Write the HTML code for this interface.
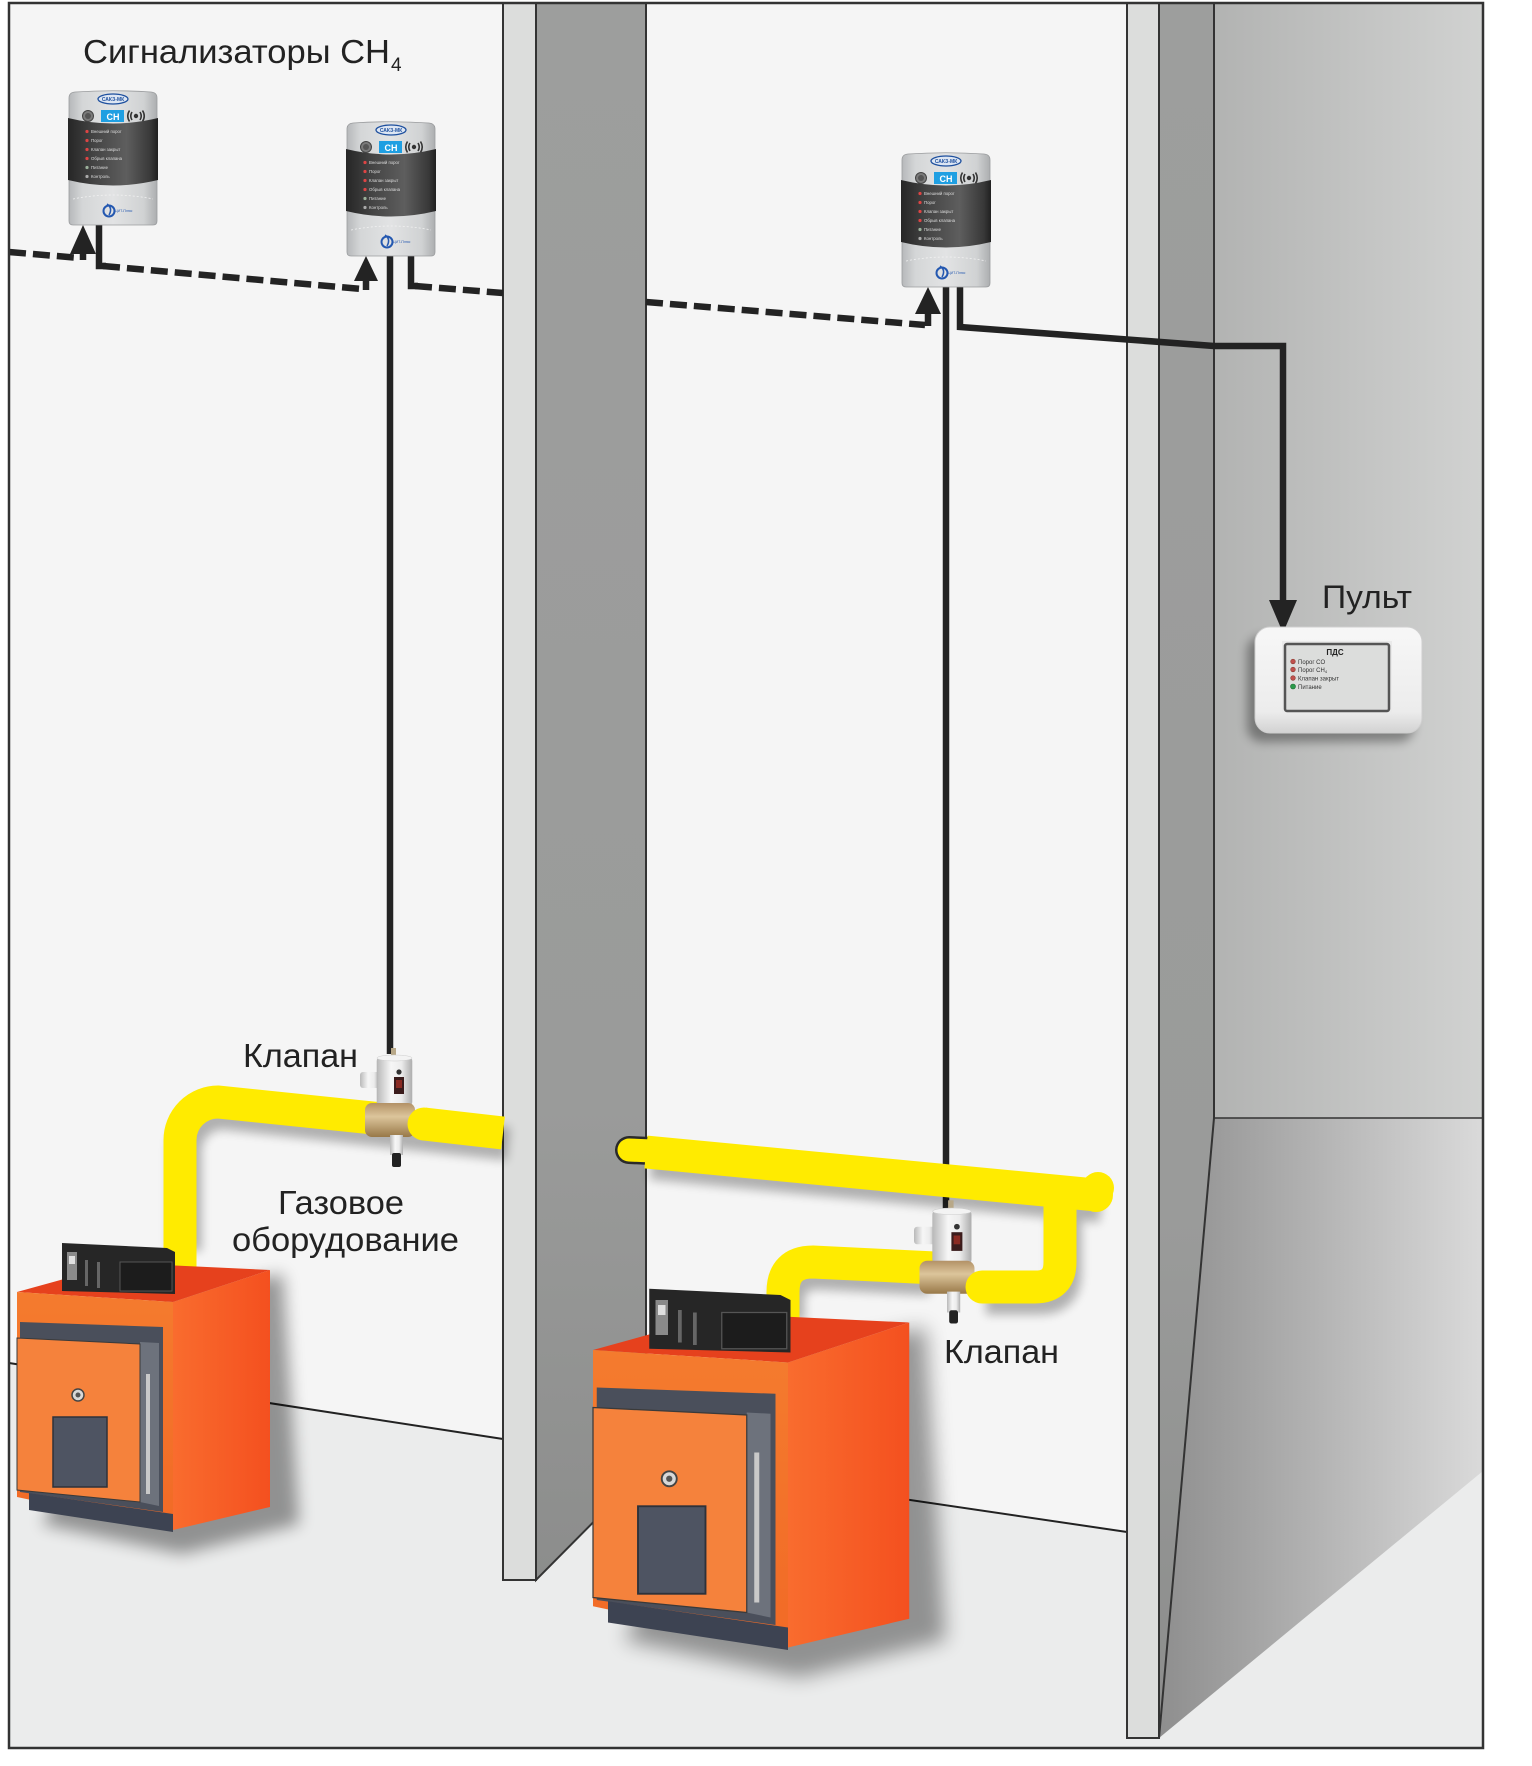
<!DOCTYPE html>
<html><head><meta charset="utf-8"><style>
html,body{margin:0;padding:0;background:#fff;}
svg{display:block;font-family:"Liberation Sans","DejaVu Sans",sans-serif;}
</style></head><body>
<svg width="1532" height="1766" viewBox="0 0 1532 1766" xmlns="http://www.w3.org/2000/svg">
<defs>
<linearGradient id="sBody" x1="0" x2="1" y1="0" y2="0"><stop offset="0" stop-color="#b6b8ba"/><stop offset=".15" stop-color="#d4d6d7"/><stop offset=".5" stop-color="#e2e3e4"/><stop offset=".85" stop-color="#d0d2d3"/><stop offset="1" stop-color="#acaeb0"/></linearGradient>
<linearGradient id="sBand" x1="0" x2="1" y1="0" y2="0"><stop offset="0" stop-color="#262626"/><stop offset=".3" stop-color="#454545"/><stop offset=".65" stop-color="#5e5e5e"/><stop offset=".92" stop-color="#383838"/><stop offset="1" stop-color="#202020"/></linearGradient>
<linearGradient id="vWhite" x1="0" x2="1" y1="0" y2="0"><stop offset="0" stop-color="#b9b9b9"/><stop offset=".4" stop-color="#f6f6f6"/><stop offset=".7" stop-color="#ececec"/><stop offset="1" stop-color="#aeaeae"/></linearGradient>
<linearGradient id="brass" x1="0" x2="0" y1="0" y2="1"><stop offset="0" stop-color="#b39166"/><stop offset=".4" stop-color="#dcc59b"/><stop offset="1" stop-color="#987848"/></linearGradient>
<linearGradient id="bRight" x1="0" x2="1" y1="0" y2="0"><stop offset="0" stop-color="#f96c2e"/><stop offset="1" stop-color="#f4501f"/></linearGradient>
<linearGradient id="bFront" x1="0" x2="0" y1="0" y2="1"><stop offset="0" stop-color="#f47b2e"/><stop offset="1" stop-color="#f26a26"/></linearGradient>
<linearGradient id="wallR1" gradientUnits="userSpaceOnUse" x1="1214" x2="1483" y1="0" y2="0"><stop offset="0" stop-color="#b2b3b2"/><stop offset="1" stop-color="#d1d2d1"/></linearGradient>
<linearGradient id="wallR2" gradientUnits="userSpaceOnUse" x1="1159" x2="1483" y1="0" y2="0"><stop offset="0" stop-color="#8e8e8e"/><stop offset="1" stop-color="#dadada"/></linearGradient>
<linearGradient id="darkS" x1="0" x2="0" y1="0" y2="1"><stop offset="0" stop-color="#9d9e9d"/><stop offset=".7" stop-color="#9a9b9a"/><stop offset="1" stop-color="#8c8d8c"/></linearGradient>
<linearGradient id="pultG" x1="0" x2="0" y1="0" y2="1"><stop offset="0" stop-color="#f7f7f7"/><stop offset=".8" stop-color="#ececec"/><stop offset="1" stop-color="#d2d2d2"/></linearGradient>
<filter id="bl5" x="-30%" y="-30%" width="160%" height="160%"><feGaussianBlur stdDeviation="5"/></filter>
<filter id="bl8" x="-30%" y="-30%" width="160%" height="160%"><feGaussianBlur stdDeviation="8"/></filter>
</defs>

<rect x="9" y="3" width="1474" height="1745" fill="#ebecec"/>
<polygon points="9,3 503,3 503,1439 9,1363" fill="#f5f5f5"/>
<polygon points="646,3 1127,3 1127,1532 646,1461" fill="#f5f5f5"/>
<line x1="9" y1="1363" x2="503" y2="1439" stroke="#222" stroke-width="2"/>
<line x1="646" y1="1461" x2="1127" y2="1532" stroke="#222" stroke-width="2"/>

<rect x="503" y="3" width="33" height="1577" fill="#dcdddc" stroke="#333" stroke-width="2"/>
<polygon points="536,3 646,3 646,1469 536,1580" fill="url(#darkS)" stroke="#333" stroke-width="2"/>
<rect x="1214" y="3" width="269" height="1115" fill="url(#wallR1)"/>
<polygon points="1214,1118 1483,1118 1483,1471 1159,1738" fill="url(#wallR2)"/>
<polygon points="1159,3 1214,3 1214,1118 1159,1738" fill="url(#darkS)" stroke="#333" stroke-width="2"/>
<line x1="1214" y1="1118" x2="1483" y2="1118" stroke="#333" stroke-width="1.5"/>
<rect x="1127" y="3" width="32" height="1735" fill="#dcdddc" stroke="#333" stroke-width="2"/>

<g stroke="#232323" stroke-width="6.5" fill="none" stroke-dasharray="17 7">
<path d="M9,252 L80,258"/>
<path d="M103,266 L362,289"/>
<path d="M415,286 L503,293"/>
<path d="M646,302 L925,325"/>
</g>
<g stroke="#232323" stroke-width="6.5" fill="none" stroke-linejoin="miter">
<path d="M99,224 L99,266 L106,266"/>
<path d="M411,256 L411,286 L418,286"/>
<path d="M390,256 L390,1054"/>
<path d="M946,285 L946,1210"/>
<path d="M960,285 L960,327 L1214,346 L1283,346 L1283,604"/>
<path d="M83,248 L83,260"/>
<path d="M366,276 L366,290"/>
<path d="M928,310 L928,326"/>
</g>
<g fill="#232323">
<polygon points="83,225 96,254 70,254"/>
<polygon points="366,256 378,281 354,281"/>
<polygon points="928,287 941,314 915,314"/>
<polygon points="1283,633 1269,600 1297,600"/>
</g>

<g transform="translate(5,11)" opacity=".28" filter="url(#bl5)" stroke="#000" stroke-width="33" fill="none">
<path d="M180,1240 L180,1140 A38,38 0 0 1 218,1102 L503,1133"/>
<path d="M646,1152 L1096,1195"/>
<path d="M1060,1195 L1060,1262 Q1060,1287 1035,1287 L981,1287"/>
<path d="M925,1268 L813,1262 Q783,1262 783,1292 L783,1310"/>
</g>

<path d="M180,1274 L180,1140 A38,38 0 0 1 218,1102 L392,1120" stroke="#ffeb00" stroke-width="33" fill="none"/>
<path d="M629,1150 L652,1151" stroke="#2a2a2a" stroke-width="28" stroke-linecap="round" fill="none"/>
<path d="M629,1150 L652,1151" stroke="#ffeb00" stroke-width="23" stroke-linecap="round" fill="none"/>
<path d="M646,1152 L1096,1195" stroke="#ffeb00" stroke-width="33" stroke-linecap="butt" fill="none"/>
<circle cx="1096" cy="1195" r="17" fill="#ffeb00"/>
<circle cx="1098" cy="1188" r="16" fill="#ffeb00"/>
<path d="M935,1268 L813,1262 Q783,1262 783,1292 L783,1322" stroke="#ffeb00" stroke-width="33" fill="none"/>

<g transform="translate(390,1105)">
<rect x="1" y="-57" width="5" height="11" fill="#b8a888"/>
<rect x="-30" y="-33" width="20" height="16" rx="3" fill="url(#vWhite)"/>
<rect x="-13" y="-48" width="35" height="49" rx="4" fill="url(#vWhite)" stroke="#b5b5b5" stroke-width=".6"/>
<ellipse cx="4.5" cy="-47" rx="17.5" ry="3" fill="#f3f3f3" stroke="#ccc" stroke-width=".5"/>
<circle cx="9" cy="-33" r="2.6" fill="#333"/>
<rect x="4" y="-28" width="10" height="17" fill="#3b1c1c"/>
<rect x="6" y="-25" width="6" height="8" fill="#8a2a22"/>
<rect x="-25" y="-2" width="50" height="34" rx="7" fill="url(#brass)"/>
<rect x="0" y="30" width="13" height="20" fill="url(#vWhite)"/>
<rect x="2" y="48" width="9" height="14" rx="2" fill="#222"/>
</g>
<path d="M424,1124 L503,1133" stroke="#ffeb00" stroke-width="33" fill="none"/>
<circle cx="424" cy="1124" r="16.5" fill="#ffeb00"/>

<g transform="translate(947,1263) scale(1.1)">
<rect x="1" y="-57" width="5" height="11" fill="#b8a888"/>
<rect x="-30" y="-33" width="20" height="16" rx="3" fill="url(#vWhite)"/>
<rect x="-13" y="-48" width="35" height="49" rx="4" fill="url(#vWhite)" stroke="#b5b5b5" stroke-width=".6"/>
<ellipse cx="4.5" cy="-47" rx="17.5" ry="3" fill="#f3f3f3" stroke="#ccc" stroke-width=".5"/>
<circle cx="9" cy="-33" r="2.6" fill="#333"/>
<rect x="4" y="-28" width="10" height="17" fill="#3b1c1c"/>
<rect x="6" y="-25" width="6" height="8" fill="#8a2a22"/>
<rect x="-25" y="-2" width="50" height="30" rx="7" fill="url(#brass)"/>
<rect x="0" y="26" width="12" height="19" fill="url(#vWhite)"/>
<rect x="2" y="43" width="8" height="12" rx="2" fill="#222"/>
</g>
<path d="M1060,1197 L1060,1262 Q1060,1287 1035,1287 L982,1287" stroke="#ffeb00" stroke-width="33" stroke-linecap="round" fill="none"/>

<g transform="translate(17,1292)">
<polygon points="150,5 266,-18 282,232 165,262 25,232" fill="#000" opacity=".38" filter="url(#bl8)"/>
<polygon points="0,0 156,10 253,-22 105,-29" fill="#e6411d"/>
<polygon points="0,0 156,10 156,238 0,205" fill="url(#bFront)"/>
<polygon points="156,10 253,-22 253,215 156,238" fill="url(#bRight)"/>
<polygon points="3,30 146,35 146,220 3,200" fill="#4a4f5b"/>
<polygon points="123,50 142,51 142,214 123,210" fill="#6d727c"/>
<polygon points="0,46 123,52 123,210 0,198" fill="#f5823c" stroke="#3a3a3a" stroke-width="1"/>
<rect x="36" y="125" width="54" height="70" fill="#4e5462" stroke="#2e323a" stroke-width="1.5"/>
<circle cx="61" cy="103" r="6" fill="#d8d8d8" stroke="#444" stroke-width="1.5"/>
<circle cx="61" cy="103" r="2.5" fill="#555"/>
<line x1="131" y1="82" x2="131" y2="202" stroke="#c9c9c9" stroke-width="4"/>
<polygon points="12,201 156,222 156,240 12,218" fill="#3d4352"/>
<polygon points="45,-49 150,-44 158,-40 158,2 45,-1" fill="#262626"/>
<rect x="50" y="-40" width="10" height="28" fill="#8a8a8a"/>
<rect x="52" y="-36" width="6" height="8" fill="#e0e0e0"/>
<rect x="68" y="-32" width="3" height="26" fill="#666"/>
<rect x="80" y="-30" width="3" height="26" fill="#666"/>
<rect x="103" y="-30" width="52" height="29" fill="#1c1c1c" stroke="#555" stroke-width="1"/>
</g>

<g transform="translate(593,1350) scale(1.25)">
<polygon points="150,5 266,-18 282,232 165,262 25,232" fill="#000" opacity=".38" filter="url(#bl8)"/>
<polygon points="0,0 156,10 253,-22 105,-29" fill="#e6411d"/>
<polygon points="0,0 156,10 156,238 0,205" fill="url(#bFront)"/>
<polygon points="156,10 253,-22 253,215 156,238" fill="url(#bRight)"/>
<polygon points="3,30 146,35 146,220 3,200" fill="#4a4f5b"/>
<polygon points="123,50 142,51 142,214 123,210" fill="#6d727c"/>
<polygon points="0,46 123,52 123,210 0,198" fill="#f5823c" stroke="#3a3a3a" stroke-width="1"/>
<rect x="36" y="125" width="54" height="70" fill="#4e5462" stroke="#2e323a" stroke-width="1.5"/>
<circle cx="61" cy="103" r="6" fill="#d8d8d8" stroke="#444" stroke-width="1.5"/>
<circle cx="61" cy="103" r="2.5" fill="#555"/>
<line x1="131" y1="82" x2="131" y2="202" stroke="#c9c9c9" stroke-width="4"/>
<polygon points="12,201 156,222 156,240 12,218" fill="#3d4352"/>
<polygon points="45,-49 150,-44 158,-40 158,2 45,-1" fill="#262626"/>
<rect x="50" y="-40" width="10" height="28" fill="#8a8a8a"/>
<rect x="52" y="-36" width="6" height="8" fill="#e0e0e0"/>
<rect x="68" y="-32" width="3" height="26" fill="#666"/>
<rect x="80" y="-30" width="3" height="26" fill="#666"/>
<rect x="103" y="-30" width="52" height="29" fill="#1c1c1c" stroke="#555" stroke-width="1"/>
</g>

<g transform="translate(69,91)">
<path d="M0,7 Q0,1.5 6,1 Q44,-1.5 82,1 Q88,1.5 88,7 L88,130 Q88,134 84,134 L4,134 Q0,134 0,130 Z" fill="url(#sBody)" stroke="#9a9c9e" stroke-width=".8"/>
<ellipse cx="44" cy="8" rx="15" ry="5" fill="#dde6f3" stroke="#1d4f9e" stroke-width="1.3"/>
<text x="44" y="10" font-size="5" font-weight="bold" fill="#1d4f9e" text-anchor="middle">САКЗ-МК</text>
<circle cx="19" cy="25" r="5.5" fill="#7a7a7a" stroke="#444" stroke-width="1"/>
<circle cx="19" cy="25" r="3" fill="#555"/>
<rect x="32" y="19" width="23" height="12" fill="#1f9fe2"/>
<text x="44" y="29" font-size="9" font-weight="bold" fill="#fff" text-anchor="middle">CH</text>
<circle cx="67" cy="25" r="2.2" fill="#333"/>
<path d="M63,21 Q60.5,25 63,29 M71,21 Q73.5,25 71,29 M60.5,19.5 Q57,25 60.5,30.5 M73.5,19.5 Q77,25 73.5,30.5" stroke="#333" stroke-width="1.6" fill="none"/>
<path d="M-1,27 Q44,38 89,27 L89,89 Q44,100 -1,89 Z" fill="url(#sBand)"/>
<g fill="#dcdcdc" font-size="4.3">
<circle cx="18" cy="40.5" r="1.6" fill="#d44"/><text x="22" y="42">Внешний порог</text>
<circle cx="18" cy="49.5" r="1.6" fill="#d44"/><text x="22" y="51">Порог</text>
<circle cx="18" cy="58.5" r="1.6" fill="#d44"/><text x="22" y="60">Клапан закрыт</text>
<circle cx="18" cy="67.5" r="1.6" fill="#d44"/><text x="22" y="69">Обрыв клапана</text>
<circle cx="18" cy="76.5" r="1.6" fill="#9ab09a"/><text x="22" y="78">Питание</text>
<circle cx="18" cy="85.5" r="1.6" fill="#aaa"/><text x="22" y="87">Контроль</text>
</g>
<path d="M4,108 Q44,100 84,108" stroke="#f2f2f2" stroke-width=".8" stroke-dasharray="2 2" fill="none"/>
<circle cx="40" cy="120" r="5.5" fill="none" stroke="#2458b0" stroke-width="2"/>
<path d="M38,113 Q44,117 40,124" stroke="#2458b0" stroke-width="1.5" fill="none"/>
<text x="46" y="121" font-size="3.5" fill="#2458b0">ЦИТ-Плюс</text>
</g>

<g transform="translate(347,122)">
<path d="M0,7 Q0,1.5 6,1 Q44,-1.5 82,1 Q88,1.5 88,7 L88,130 Q88,134 84,134 L4,134 Q0,134 0,130 Z" fill="url(#sBody)" stroke="#9a9c9e" stroke-width=".8"/>
<ellipse cx="44" cy="8" rx="15" ry="5" fill="#dde6f3" stroke="#1d4f9e" stroke-width="1.3"/>
<text x="44" y="10" font-size="5" font-weight="bold" fill="#1d4f9e" text-anchor="middle">САКЗ-МК</text>
<circle cx="19" cy="25" r="5.5" fill="#7a7a7a" stroke="#444" stroke-width="1"/>
<circle cx="19" cy="25" r="3" fill="#555"/>
<rect x="32" y="19" width="23" height="12" fill="#1f9fe2"/>
<text x="44" y="29" font-size="9" font-weight="bold" fill="#fff" text-anchor="middle">CH</text>
<circle cx="67" cy="25" r="2.2" fill="#333"/>
<path d="M63,21 Q60.5,25 63,29 M71,21 Q73.5,25 71,29 M60.5,19.5 Q57,25 60.5,30.5 M73.5,19.5 Q77,25 73.5,30.5" stroke="#333" stroke-width="1.6" fill="none"/>
<path d="M-1,27 Q44,38 89,27 L89,89 Q44,100 -1,89 Z" fill="url(#sBand)"/>
<g fill="#dcdcdc" font-size="4.3">
<circle cx="18" cy="40.5" r="1.6" fill="#d44"/><text x="22" y="42">Внешний порог</text>
<circle cx="18" cy="49.5" r="1.6" fill="#d44"/><text x="22" y="51">Порог</text>
<circle cx="18" cy="58.5" r="1.6" fill="#d44"/><text x="22" y="60">Клапан закрыт</text>
<circle cx="18" cy="67.5" r="1.6" fill="#d44"/><text x="22" y="69">Обрыв клапана</text>
<circle cx="18" cy="76.5" r="1.6" fill="#9ab09a"/><text x="22" y="78">Питание</text>
<circle cx="18" cy="85.5" r="1.6" fill="#aaa"/><text x="22" y="87">Контроль</text>
</g>
<path d="M4,108 Q44,100 84,108" stroke="#f2f2f2" stroke-width=".8" stroke-dasharray="2 2" fill="none"/>
<circle cx="40" cy="120" r="5.5" fill="none" stroke="#2458b0" stroke-width="2"/>
<path d="M38,113 Q44,117 40,124" stroke="#2458b0" stroke-width="1.5" fill="none"/>
<text x="46" y="121" font-size="3.5" fill="#2458b0">ЦИТ-Плюс</text>
</g>

<g transform="translate(902,153)">
<path d="M0,7 Q0,1.5 6,1 Q44,-1.5 82,1 Q88,1.5 88,7 L88,130 Q88,134 84,134 L4,134 Q0,134 0,130 Z" fill="url(#sBody)" stroke="#9a9c9e" stroke-width=".8"/>
<ellipse cx="44" cy="8" rx="15" ry="5" fill="#dde6f3" stroke="#1d4f9e" stroke-width="1.3"/>
<text x="44" y="10" font-size="5" font-weight="bold" fill="#1d4f9e" text-anchor="middle">САКЗ-МК</text>
<circle cx="19" cy="25" r="5.5" fill="#7a7a7a" stroke="#444" stroke-width="1"/>
<circle cx="19" cy="25" r="3" fill="#555"/>
<rect x="32" y="19" width="23" height="12" fill="#1f9fe2"/>
<text x="44" y="29" font-size="9" font-weight="bold" fill="#fff" text-anchor="middle">CH</text>
<circle cx="67" cy="25" r="2.2" fill="#333"/>
<path d="M63,21 Q60.5,25 63,29 M71,21 Q73.5,25 71,29 M60.5,19.5 Q57,25 60.5,30.5 M73.5,19.5 Q77,25 73.5,30.5" stroke="#333" stroke-width="1.6" fill="none"/>
<path d="M-1,27 Q44,38 89,27 L89,89 Q44,100 -1,89 Z" fill="url(#sBand)"/>
<g fill="#dcdcdc" font-size="4.3">
<circle cx="18" cy="40.5" r="1.6" fill="#d44"/><text x="22" y="42">Внешний порог</text>
<circle cx="18" cy="49.5" r="1.6" fill="#d44"/><text x="22" y="51">Порог</text>
<circle cx="18" cy="58.5" r="1.6" fill="#d44"/><text x="22" y="60">Клапан закрыт</text>
<circle cx="18" cy="67.5" r="1.6" fill="#d44"/><text x="22" y="69">Обрыв клапана</text>
<circle cx="18" cy="76.5" r="1.6" fill="#9ab09a"/><text x="22" y="78">Питание</text>
<circle cx="18" cy="85.5" r="1.6" fill="#aaa"/><text x="22" y="87">Контроль</text>
</g>
<path d="M4,108 Q44,100 84,108" stroke="#f2f2f2" stroke-width=".8" stroke-dasharray="2 2" fill="none"/>
<circle cx="40" cy="120" r="5.5" fill="none" stroke="#2458b0" stroke-width="2"/>
<path d="M38,113 Q44,117 40,124" stroke="#2458b0" stroke-width="1.5" fill="none"/>
<text x="46" y="121" font-size="3.5" fill="#2458b0">ЦИТ-Плюс</text>
</g>

<rect x="1247" y="636" width="167" height="106" rx="15" fill="#000" opacity=".35" filter="url(#bl5)"/>
<rect x="1255" y="627" width="167" height="106" rx="15" fill="url(#pultG)" stroke="#cfcfcf" stroke-width="1"/>
<rect x="1282" y="641" width="110" height="73" fill="#eaeaea"/>
<rect x="1285" y="644" width="104" height="67" rx="2" fill="#dcdddc" stroke="#555" stroke-width="2.5"/>
<text x="1335" y="655" font-size="8" font-weight="bold" fill="#222" text-anchor="middle">ПДС</text>
<g font-size="6" fill="#333">
<circle cx="1293" cy="661.5" r="2.3" fill="#c0504d" stroke="#8a3a30" stroke-width=".6"/><text x="1298" y="664">Порог CO</text>
<circle cx="1293" cy="669.5" r="2.3" fill="#c0504d" stroke="#8a3a30" stroke-width=".6"/><text x="1298" y="672">Порог CH<tspan font-size="4" dy="1">4</tspan></text>
<circle cx="1293" cy="678" r="2.3" fill="#c0504d" stroke="#8a3a30" stroke-width=".6"/><text x="1298" y="680.5">Клапан закрыт</text>
<circle cx="1293" cy="686.5" r="2.5" fill="#2a9a4a" stroke="#1a6a30" stroke-width=".6"/><text x="1298" y="689">Питание</text>
</g>

<text x="83" y="63" font-size="33" fill="#222" textLength="307" lengthAdjust="spacingAndGlyphs">Сигнализаторы CH</text>
<text x="391" y="71" font-size="19" fill="#222">4</text>
<text x="1322" y="608" font-size="32" fill="#222" textLength="90" lengthAdjust="spacingAndGlyphs">Пульт</text>
<text x="243" y="1067" font-size="33" fill="#222" textLength="115" lengthAdjust="spacingAndGlyphs">Клапан</text>
<text x="278" y="1214" font-size="33" fill="#222" textLength="126" lengthAdjust="spacingAndGlyphs">Газовое</text>
<text x="232" y="1251" font-size="33" fill="#222" textLength="227" lengthAdjust="spacingAndGlyphs">оборудование</text>
<text x="944" y="1363" font-size="33" fill="#222" textLength="115" lengthAdjust="spacingAndGlyphs">Клапан</text>

<rect x="9" y="3" width="1474" height="1745" fill="none" stroke="#333" stroke-width="2.5"/>
</svg>
</body></html>
